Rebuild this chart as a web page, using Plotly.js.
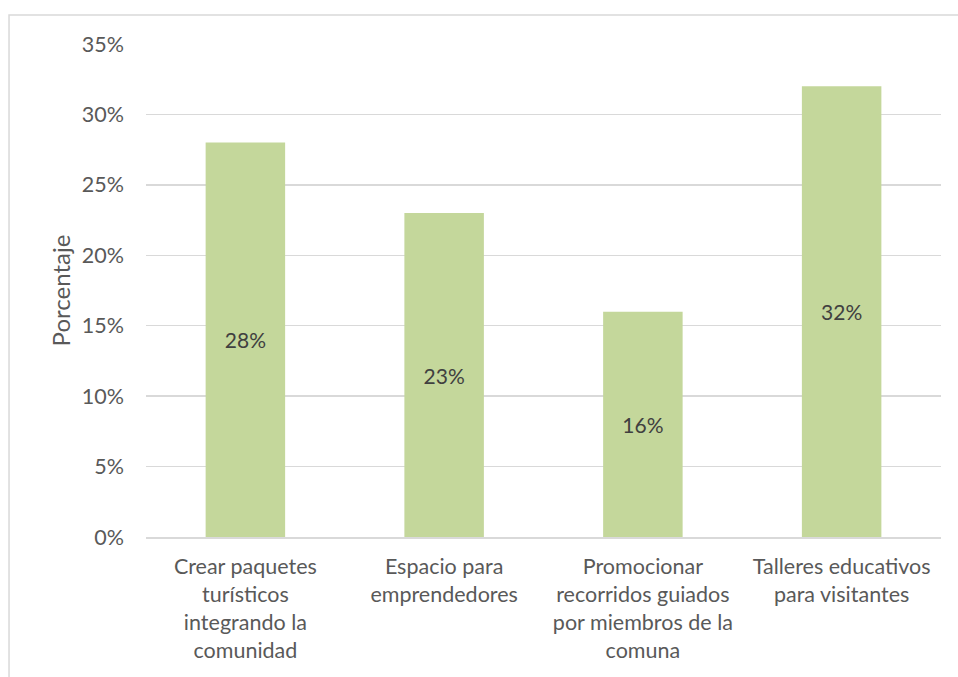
<!DOCTYPE html>
<html><head><meta charset="utf-8">
<script src="https://cdn.plot.ly/plotly-3.0.1.min.js"></script>
<style>html,body{margin:0;padding:0;background:#fff}#c{width:958px;height:677px}</style>
</head><body><div id="c"></div>
<script>
const categories = [
  "Crear paquetes<br>turísticos<br>integrando la<br>comunidad",
  "Espacio para<br>emprendedores",
  "Promocionar<br>recorridos guiados<br>por miembros de la<br>comuna",
  "Talleres educativos<br>para visitantes"
];
const values = [0.28, 0.23, 0.16, 0.32];
const labels = ["28%", "23%", "16%", "32%"];
const yTicks = [0, 0.05, 0.10, 0.15, 0.20, 0.25, 0.30, 0.35];

const FONT = "Lato, 'Open Sans', sans-serif";
Plotly.newPlot("c", [{
  type: "bar",
  x: categories,
  y: values,
  text: labels,
  textposition: "inside",
  insidetextanchor: "middle",
  textangle: 0,
  textfont: {family: FONT, size: 21, color: "#404040"},
  marker: {color: "#C4D79B"},
  width: 0.4,
  hoverinfo: "skip"
}], {
  width: 958, height: 677,
  margin: {l: 146, r: 17, t: 44, b: 140},
  paper_bgcolor: "#fff", plot_bgcolor: "#fff",
  font: {family: FONT, size: 21, color: "#595959"},
  showlegend: false,
  xaxis: {
    showgrid: false, showline: true, linecolor: "#D9D9D9", linewidth: 1.5,
    ticks: "", tickangle: 0, ticklabelstandoff: 10,
    tickfont: {family: FONT, size: 21.5, color: "#595959"}
  },
  yaxis: {
    range: [0, 0.35], tickvals: yTicks, tickformat: ".0%",
    showgrid: true, gridcolor: "#D9D9D9", gridwidth: 1.5, zeroline: false,
    showline: false, ticks: "", ticklabelstandoff: 21,
    tickfont: {family: FONT, size: 21.5, color: "#595959"},
    title: {text: "Porcentaje", standoff: 4, font: {family: FONT, size: 24, color: "#595959"}}
  },
  shapes: [{
    type: "rect", xref: "paper", yref: "paper",
    x0: -0.1723, x1: 1.05, y0: -0.3, y1: 1.0588,
    line: {color: "#D9D9D9", width: 1.5}, fillcolor: "rgba(0,0,0,0)", layer: "below"
  }]
}, {displayModeBar: false, staticPlot: true});
</script></body></html>
